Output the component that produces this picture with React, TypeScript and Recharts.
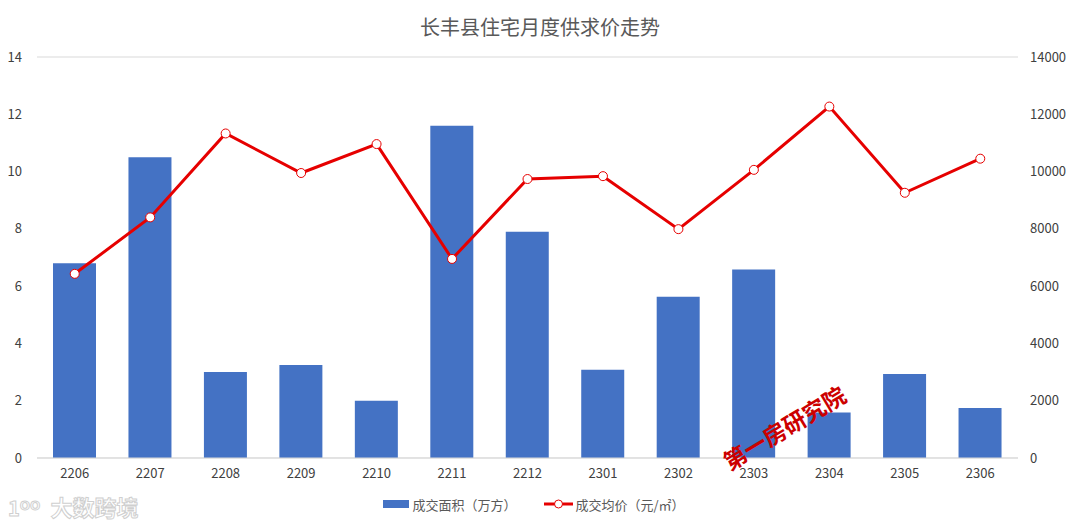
import {
    ComposedChart, Bar, Line, XAxis, YAxis, CartesianGrid, Legend,
} from "recharts";

const months = ["2206", "2207", "2208", "2209", "2210", "2211", "2212", "2301", "2302", "2303", "2304", "2305", "2306"];
// 成交面积（万方）
const areaValues = [6.8, 10.5, 3.0, 3.25, 2.0, 11.6, 7.9, 3.08, 5.63, 6.58, 1.59, 2.93, 1.75];
// 成交均价（元/㎡）
const priceValues = [6430, 8400, 11330, 9950, 10960, 6950, 9740, 9840, 7990, 10060, 12270, 9260, 10450];
const leftTicks = [0, 2, 4, 6, 8, 10, 12, 14];
const rightTicks = [0, 2000, 4000, 6000, 8000, 10000, 12000, 14000];

const FONT = '"Noto Sans CJK SC", "Noto Sans", sans-serif';
const BAR_COLOR = "#4472C4";
const LINE_COLOR = "#E60000";

const data = months.map((m, i) => ({ month: m, area: areaValues[i], price: priceValues[i] }));

function LegendContent() {
    return (
        <div style={{ display: "flex", justifyContent: "center", alignItems: "center", fontSize: 13, color: "#595959", fontFamily: FONT, height: 18, paddingRight: 12 }}>
            <span style={{ display: "inline-flex", alignItems: "center", marginRight: 28 }}>
                <svg width={27} height={8} style={{ marginRight: 2 }}>
                    <rect x={0} y={0} width={26} height={8} fill={BAR_COLOR} />
                </svg>
                成交面积（万方）
            </span>
            <span style={{ display: "inline-flex", alignItems: "center" }}>
                <svg width={30} height={12} style={{ marginRight: 1 }}>
                    <line x1={0} y1={6} x2={29} y2={6} stroke={LINE_COLOR} strokeWidth={3} />
                    <circle cx={14.5} cy={6} r={4} fill="#fff" stroke={LINE_COLOR} strokeWidth={1} />
                </svg>
                成交均价（元/㎡）
            </span>
        </div>
    );
}

export default function App() {
    return (
        <div style={{ position: "absolute", left: 0, top: 0, width: 1080, height: 526, background: "#fff", fontFamily: FONT }}>
            <div style={{ position: "absolute", left: 0, top: 12, width: 1080, textAlign: "center", fontSize: 20, color: "#595959" }}>
                长丰县住宅月度供求价走势
            </div>

            <ComposedChart width={1080} height={526} data={data} margin={{ top: 57, right: 0, bottom: 0, left: 0 }}>
                <CartesianGrid vertical={false} stroke="#d9d9d9" strokeWidth={1} />
                <XAxis
                    dataKey="month"
                    height={50}
                    tickLine={false}
                    axisLine={{ stroke: "#d9d9d9" }}
                    tickMargin={5}
                    tick={{ fill: "#404040", fontSize: 13, fontFamily: FONT }}
                />
                <YAxis
                    yAxisId="left"
                    orientation="left"
                    width={37}
                    domain={[0, 14]}
                    ticks={leftTicks}
                    tickLine={false}
                    axisLine={false}
                    tickMargin={9}
                    tick={{ fill: "#404040", fontSize: 13, fontFamily: FONT }}
                />
                <YAxis
                    yAxisId="right"
                    orientation="right"
                    width={62}
                    domain={[0, 14000]}
                    ticks={rightTicks}
                    tickLine={false}
                    axisLine={false}
                    tickMargin={6}
                    tick={{ fill: "#404040", fontSize: 13, fontFamily: FONT }}
                />
                <Legend
                    content={<LegendContent />}
                    wrapperStyle={{ left: 0, width: 1080, top: 495 }}
                />
                <Bar yAxisId="left" dataKey="area" name="成交面积（万方）" fill={BAR_COLOR} barSize={43} isAnimationActive={false} />
                <Line
                    yAxisId="right"
                    type="linear"
                    dataKey="price"
                    name="成交均价（元/㎡）"
                    stroke={LINE_COLOR}
                    strokeWidth={3}
                    dot={{ r: 4.5, fill: "#fff", stroke: LINE_COLOR, strokeWidth: 1 }}
                    activeDot={false}
                    isAnimationActive={false}
                />
            </ComposedChart>

            {/* watermarks */}
            <div style={{ position: "absolute", left: 716, top: 448, fontSize: 23, fontWeight: 700, color: "#cc0000", transform: "rotate(-31deg)", transformOrigin: "left top", whiteSpace: "nowrap" }}>
                第一房研究院
            </div>
            <div style={{ position: "absolute", left: 8, top: 490, fontSize: 22, fontWeight: 700, color: "#fff", WebkitTextStroke: "1px #cfcfcf", whiteSpace: "nowrap" }}>
                <span style={{ fontSize: 20, marginRight: 10 }}>1ᴼᴼ</span>大数跨境
            </div>
        </div>
    );
}
